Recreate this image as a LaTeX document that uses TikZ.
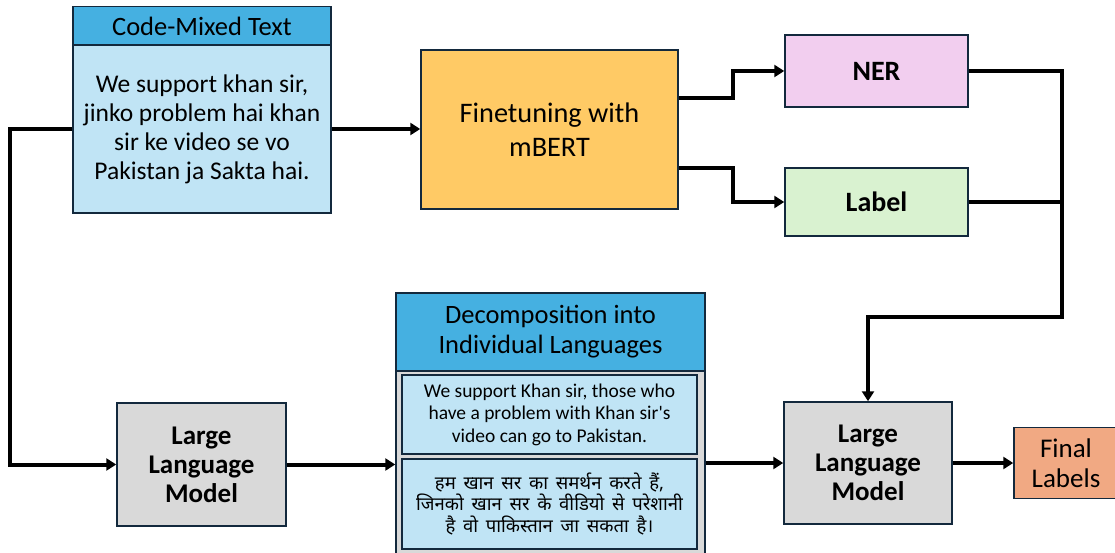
\documentclass[tikz,border=0pt]{standalone}
\usepackage{fontspec}
\setmainfont{Carlito}
\newfontfamily\plaincarlito{Carlito}
\newfontfamily\hindi[Script=Devanagari,WordSpace=1.6]{Noto Sans}
\usetikzlibrary{arrows.meta}
\definecolor{bordc}{HTML}{13293D}
\definecolor{headblue}{HTML}{45B0E1}
\definecolor{lightblue}{HTML}{C0E4F5}
\definecolor{mbertc}{HTML}{FFCA65}
\definecolor{nerc}{HTML}{F2CEEF}
\definecolor{labc}{HTML}{D9F2D0}
\definecolor{grayc}{HTML}{D9D9D9}
\definecolor{finalc}{HTML}{F1A983}
\tikzset{
  box/.style={draw=bordc, line width=1.5pt, inner sep=0pt, align=center, text=black},
  conn/.style={line width=4pt, black},
  arr/.style={conn, -{Triangle[length=10pt,width=12pt]}},
}
\begin{document}
\begin{tikzpicture}[x=1pt,y=-1pt]
\useasboundingbox (0,0) rectangle (1115,553);
% Code-mixed
\node[box, fill=headblue, minimum width=258pt, minimum height=39pt, font=\fontsize{26.5}{30}\selectfont] (codeh) at (202,26) {Code-Mixed Text};
\node[box, fill=lightblue, minimum width=258pt, minimum height=168pt, font=\fontsize{25.5}{29}\selectfont] (codeb) at (202,129)
  {We support khan sir,\\jinko problem hai khan\\sir ke video se vo\\Pakistan ja Sakta hai.};
% mBERT
\node[box, fill=mbertc, minimum width=257pt, minimum height=159pt, font=\fontsize{28.3}{34}\selectfont] (mbert) at (549.5,129.5) {Finetuning with\\mBERT};
% NER / Label
\node[box, fill=nerc, minimum width=183pt, minimum height=72pt, font=\fontsize{28}{30}\selectfont\bfseries] (ner) at (876.5,71) {NER};
\node[box, fill=labc, minimum width=183pt, minimum height=68pt, font=\fontsize{28}{30}\selectfont\bfseries] (label) at (876.5,202) {Label};
% LLM 1
\node[box, fill=grayc, minimum width=169pt, minimum height=123pt, font=\fontsize{27}{29}\selectfont\bfseries] (llm1) at (201.5,464.5) {Large\\Language\\Model};
% Decomposition
\node[box, fill=grayc, minimum width=309pt, minimum height=229pt] (decb) at (550.5,485.5) {};
\node[box, fill=headblue, minimum width=309pt, minimum height=78pt, font=\fontsize{26.5}{30}\selectfont] (dech) at (550.5,332) {Decomposition into\\Individual Languages};
\node[box, fill=lightblue, minimum width=295pt, minimum height=79pt, font=\fontsize{19.5}{22.5}\selectfont] (en) at (549.5,414.5)
  {We support Khan sir, those who\\have a problem with Khan sir{\plaincarlito '}s\\video can go to Pakistan.};
\node[box, fill=lightblue, minimum width=295pt, minimum height=90pt, font=\fontsize{18.5}{21.5}\selectfont\hindi] (hi) at (549.5,504)
  {हम खान सर का समर्थन करते हैं,\\जिनको खान सर के वीडियो से परेशानी\\है वो पाकिस्तान जा सकता है।};
% LLM 2
\node[box, fill=grayc, minimum width=168pt, minimum height=122pt, font=\fontsize{27}{29}\selectfont\bfseries] (llm2) at (868,463) {Large\\Language\\Model};
% Final
\node[box, fill=finalc, minimum width=104pt, minimum height=71pt, font=\fontsize{27}{30}\selectfont] (final) at (1066,463) {Final\\Labels};
% connectors
\coordinate (j) at (1062,317);
\draw[arr] (codeb.east) -- (codeb.east -| mbert.west);
\draw[arr] ([yshift=31.5pt]mbert.east) -- ++(54,0) |- (ner.west);
\draw[arr] ([yshift=-38.5pt]mbert.east) -- ++(54,0) |- (label.west);
\draw[arr] (ner.east) -| (j) -| (llm2.north);
\draw[conn] (label.east) -- (label.east -| j);
\draw[arr] (codeb.west) -- ++(-62,0) |- (llm1.west);
\draw[arr] (llm1.east) -- (llm1.east -| decb.west);
\draw[arr] (llm2.west -| decb.east) -- (llm2.west);
\draw[arr] (llm2.east) -- (final.west);
\end{tikzpicture}
\end{document}
